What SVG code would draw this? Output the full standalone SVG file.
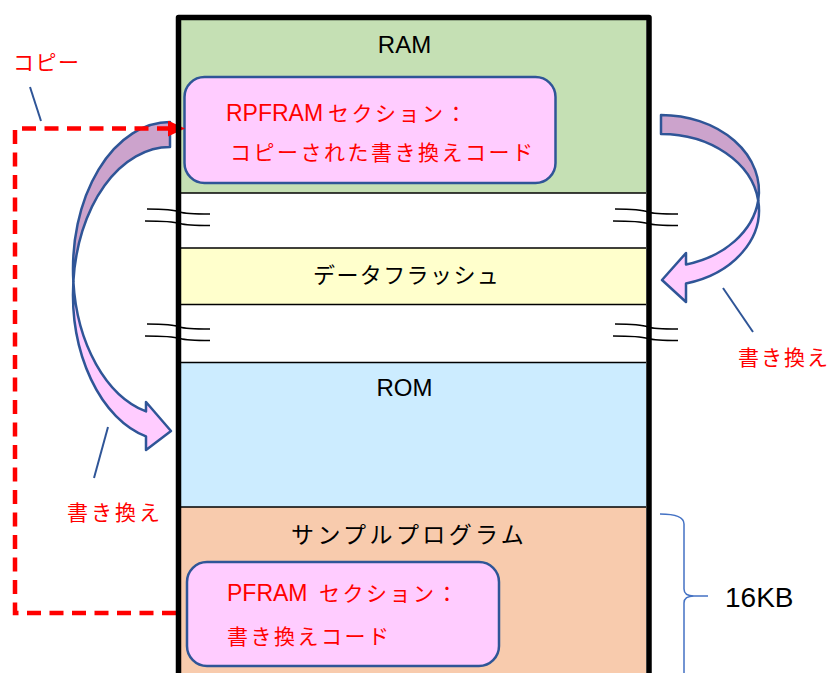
<svg xmlns="http://www.w3.org/2000/svg" width="833" height="673" viewBox="0 0 833 673">
  <style>
    text { font-family: 'Liberation Sans', 'Noto Sans CJK JP', sans-serif; }
    .lbl { fill: #000; font-size: 24px; }
    .jp { fill: #000; font-size: 22px; letter-spacing: 1.4px; }
    .red { fill: #FF0000; font-size: 21px; letter-spacing: 2.5px; }
    .redlat { font-size: 23px; letter-spacing: 0; }
    .sep { stroke: #000; stroke-width: 1.5; fill: none; }
    .box { fill: #FFCCFF; stroke: #2F5597; stroke-width: 2.5; }
    .back { fill: #CCA3CC; stroke: #2F5597; stroke-width: 2.5; stroke-linejoin: round; }
    .front { fill: #FFCCFF; stroke: #2F5597; stroke-width: 2.5; stroke-linejoin: round; }
    .leader { stroke: #2F5597; stroke-width: 2; fill: none; }
    .brk { stroke: #000; stroke-width: 1.5; fill: none; }
  </style>
  <defs>
    <!-- break mark: two wavy strokes across the frame edge -->
    <g id="breakmark">
      <path class="brk" d="M0,0 C18,0 28,1 33,3 C38,5 48,5 63,5"/>
      <path class="brk" d="M-2,12 C16,12 28,13 33,14.5 C38,16 48,16.5 63,16.5"/>
    </g>
    <marker id="redHead" viewBox="0 0 17 16" refX="0" refY="8" markerWidth="17" markerHeight="16" markerUnits="userSpaceOnUse" orient="auto">
      <path d="M0,0 L17,8 L0,16 Z" fill="#FF0000"/>
    </marker>
  </defs>

  <rect width="833" height="673" fill="#FFFFFF"/>

  <!-- memory map sections -->
  <g id="section-ram">
    <rect x="181" y="20" width="465" height="173" fill="#C5E0B4"/>
    <text class="lbl" x="404.5" y="53" text-anchor="middle">RAM</text>
  </g>
  <g id="section-gap1">
    <rect x="181" y="193" width="465" height="55" fill="#FFFFFF"/>
  </g>
  <g id="section-flash">
    <rect x="181" y="248" width="465" height="56.5" fill="#FFFFCC"/>
    <text class="jp" x="313" y="283">データフラッシュ</text>
  </g>
  <g id="section-gap2">
    <rect x="181" y="304.5" width="465" height="58" fill="#FFFFFF"/>
  </g>
  <g id="section-rom">
    <rect x="181" y="362.5" width="465" height="144.5" fill="#CCECFF"/>
    <text class="lbl" x="404.5" y="395.5" text-anchor="middle">ROM</text>
  </g>
  <g id="section-program">
    <rect x="181" y="507" width="465" height="166" fill="#F8CBAD"/>
    <text class="jp" x="291" y="543" style="font-size:23px;letter-spacing:3.4px">サンプルプログラム</text>
  </g>

  <!-- section boundaries -->
  <g id="separators">
    <line class="sep" x1="181" y1="193" x2="646" y2="193"/>
    <line class="sep" x1="181" y1="248" x2="646" y2="248"/>
    <line class="sep" x1="181" y1="304.5" x2="646" y2="304.5"/>
    <line class="sep" x1="181" y1="362.5" x2="646" y2="362.5"/>
    <line class="sep" x1="181" y1="507" x2="646" y2="507"/>
  </g>

  <!-- omission marks -->
  <g id="breaks">
    <use href="#breakmark" x="147" y="209"/>
    <use href="#breakmark" x="147" y="324"/>
    <use href="#breakmark" x="615" y="209"/>
    <use href="#breakmark" x="615" y="324"/>
  </g>

  <!-- section boxes -->
  <g id="box-rpfram">
    <rect class="box" x="184.5" y="77" width="371" height="106" rx="20" ry="20"/>
    <text class="red" y="121"><tspan x="226" class="redlat">RPFRAM </tspan><tspan x="328">セクション：</tspan></text>
    <text class="red" x="230" y="160">コピーされた書き換えコード</text>
  </g>
  <g id="box-pfram">
    <rect class="box" x="187" y="562" width="312" height="104" rx="20" ry="20"/>
    <text class="red" y="601"><tspan x="227" class="redlat">PFRAM </tspan><tspan x="319">セクション：</tspan></text>
    <text class="red" x="227" y="644">書き換えコード</text>
  </g>

  <!-- connectors -->
  <g id="connectors">
    <!-- curved arrow on the left: RPFRAM down to ROM -->
    <path class="back" d="M170,122 A97,147 0 0 0 73.35,281.5 A97,147 0 0 1 170,147 Z"/>
    <path class="front" d="M73.35,281.5 A97,147 0 0 0 146,436.4 L146,450 L171,431 L146,402 L146,411.4 A97,147 0 0 1 73.35,281.5 Z"/>
    <!-- curved arrow on the right: RAM down to data flash -->
    <path class="back" d="M661,115 A98,76 0 0 1 758.2,200.5 A98,76 0 0 0 661,134 Z"/>
    <path class="front" d="M758.2,200.5 A98,76 0 0 1 686,283.5 L686,302 L662,280 L686,253 L686,264.5 A98,76 0 0 0 758.2,200.5 Z"/>
    <!-- dashed copy path from PFRAM to RPFRAM -->
    <path d="M176,613 H15 V128.5 H168" fill="none" stroke="#FF0000" stroke-width="4.5" stroke-dasharray="14 8.5" marker-end="url(#redHead)"/>
    <!-- callout leaders -->
    <line class="leader" x1="30" y1="87" x2="41" y2="121"/>
    <line class="leader" x1="108" y1="427" x2="94" y2="478"/>
    <line class="leader" x1="723" y1="288" x2="753" y2="332"/>
    <!-- size brace -->
    <path d="M660,514 Q684,514 684,524 V589 Q684,596 694,596 H708 M694,596 Q684,596 684,603 V673" fill="none" stroke="#4472C4" stroke-width="1.5"/>
  </g>

  <!-- memory frame -->
  <g id="frame">
    <path d="M178.5,673 V17.5 H649 V673" fill="none" stroke="#000" stroke-width="5.5" stroke-linejoin="round"/>
  </g>

  <!-- callout labels -->
  <g id="labels">
    <text class="red" x="13" y="70" style="letter-spacing:1.5px">コピー</text>
    <text class="red" x="67" y="520" style="letter-spacing:3px">書き換え</text>
    <text class="red" x="738" y="365" style="letter-spacing:2px">書き換え</text>
    <text x="725" y="607" style="font-size:28px;fill:#000">16KB</text>
  </g>
</svg>
